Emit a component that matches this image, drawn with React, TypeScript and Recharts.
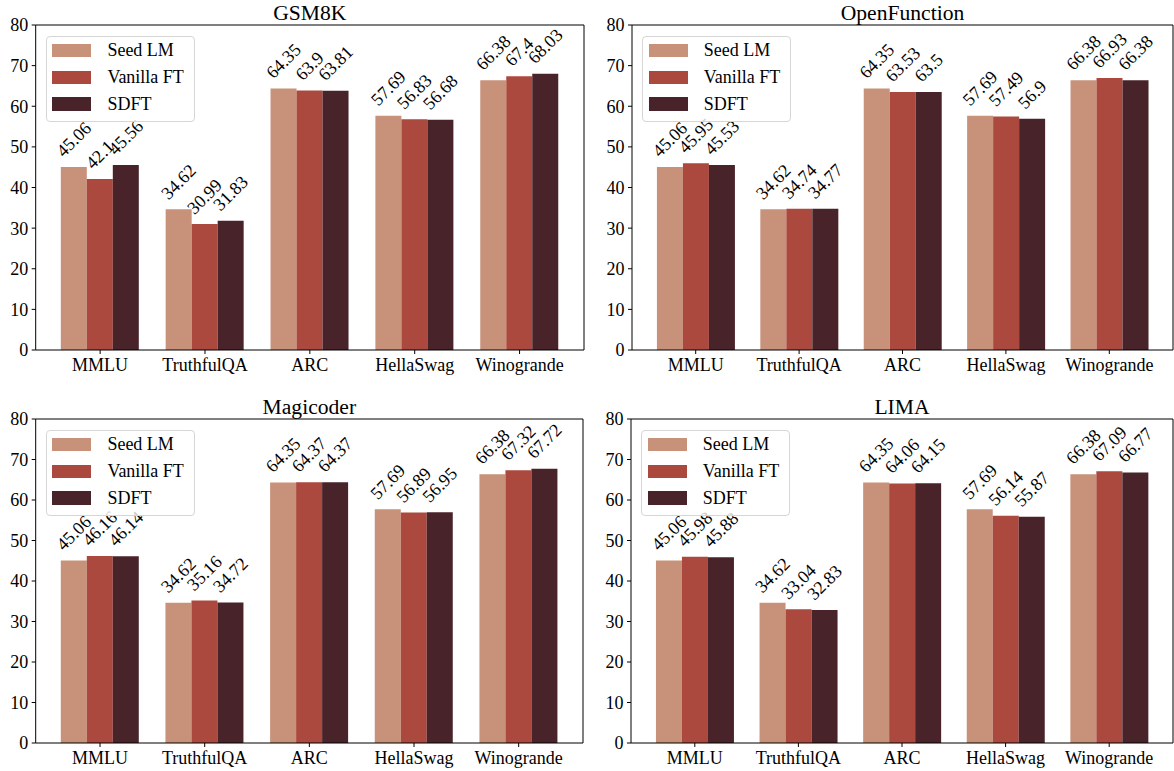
import React from 'react';
import { BarChart, Bar, XAxis, YAxis, Legend, LabelList } from 'recharts';

const CATEGORIES = ['MMLU', 'TruthfulQA', 'ARC', 'HellaSwag', 'Winogrande'];
const SERIES_NAMES = ['Seed LM', 'Vanilla FT', 'SDFT'];
const COLORS = ['#C8927A', '#AB493F', '#48232A'];
const Y_TICKS = [0, 10, 20, 30, 40, 50, 60, 70, 80];

const SEED_LM = [45.06, 34.62, 64.35, 57.69, 66.38];

const GSM8K_VANILLA = [42.1, 30.99, 63.9, 56.83, 67.4];
const GSM8K_SDFT = [45.56, 31.83, 63.81, 56.68, 68.03];

const OPENFUNCTION_VANILLA = [45.95, 34.74, 63.53, 57.49, 66.93];
const OPENFUNCTION_SDFT = [45.53, 34.77, 63.5, 56.9, 66.38];

const MAGICODER_VANILLA = [46.16, 35.16, 64.37, 56.89, 67.32];
const MAGICODER_SDFT = [46.14, 34.72, 64.37, 56.95, 67.72];

const LIMA_VANILLA = [45.98, 33.04, 64.06, 56.14, 67.09];
const LIMA_SDFT = [45.88, 32.83, 64.15, 55.87, 66.77];

const FONT = '"Liberation Serif", "Times New Roman", serif';
const FS = 18;

// chart containers on the page
const PANELS = [
  { title: 'GSM8K', vanilla: GSM8K_VANILLA, sdft: GSM8K_SDFT, left: 0, top: 0, width: 585, height: 385, ml: 5.7, mb: 5, xh: 30 },
  { title: 'OpenFunction', vanilla: OPENFUNCTION_VANILLA, sdft: OPENFUNCTION_SDFT, left: 596, top: 0, width: 578, height: 385, ml: 6, mb: 5, xh: 30 },
  { title: 'Magicoder', vanilla: MAGICODER_VANILLA, sdft: MAGICODER_SDFT, left: 0, top: 394, width: 584, height: 377, ml: 5.7, mb: 0, xh: 28 },
  { title: 'LIMA', vanilla: LIMA_VANILLA, sdft: LIMA_SDFT, left: 595, top: 394, width: 579, height: 377, ml: 6, mb: 0, xh: 28 },
];

// rough ink width of a number label
const labelWidth = (s: string) =>
  s.split('').reduce((w, c) => w + (c === '.' ? 0.25 : 0.5), 0) * FS;

const RotatedLabel = (props: any) => {
  const { x = 0, y = 0, width = 0, value } = props;
  const s = String(value);
  const cx = x + width / 2;
  const box = (labelWidth(s) + 0.66 * FS) / Math.SQRT2;
  const cy = y - 9 - box / 2;
  return (
    <g transform={`translate(${cx} ${cy}) rotate(-45)`}>
      <text
        x={0}
        y={0}
        textAnchor="middle"
        dominantBaseline="central"
        style={{ fontFamily: FONT, fontSize: FS }}
        fill="#000"
      >
        {s}
      </text>
    </g>
  );
};

const LegendBox = () => (
  <div
    style={{
      boxSizing: 'border-box',
      width: 149,
      height: 86,
      border: '1px solid #d6d6d6',
      borderRadius: 4,
      background: 'rgba(255,255,255,0.8)',
      fontFamily: FONT,
      fontSize: FS,
      color: '#000',
    }}
  >
    {SERIES_NAMES.map((name, i) => (
      <div key={name} style={{ display: 'flex', alignItems: 'center', height: 26.8 }}>
        <div style={{ marginLeft: 5.7, width: 39, height: 13.3, background: COLORS[i] }} />
        <span style={{ marginLeft: 16, lineHeight: 1 }}>{name}</span>
      </div>
    ))}
  </div>
);

function Panel({ p }: { p: (typeof PANELS)[number] }) {
  const data = CATEGORIES.map((name, i) => ({
    name,
    seed: SEED_LM[i],
    vanilla: p.vanilla[i],
    sdft: p.sdft[i],
  }));
  const plotLeft = p.ml + 30;
  const plotRight = p.width - 1;
  const tick = { fontFamily: FONT, fontSize: FS, fill: '#000' };

  return (
    <div style={{ position: 'absolute', left: p.left, top: p.top, width: p.width, height: p.height }}>
      <BarChart
        width={p.width}
        height={p.height}
        data={data}
        margin={{ top: 24, right: 0, left: p.ml, bottom: p.mb }}
        barCategoryGap="12.5%"
        barGap={0}
        style={{ fontFamily: FONT }}
      >
        <XAxis
          dataKey="name"
          height={p.xh}
          padding={{ left: 12, right: 12 }}
          tick={tick}
          tickSize={4}
          tickMargin={4}
          interval={0}
          axisLine={{ stroke: '#000' }}
          tickLine={{ stroke: '#000' }}
        />
        <XAxis
          xAxisId="top"
          orientation="top"
          dataKey="name"
          height={1}
          padding={{ left: 12, right: 12 }}
          tick={false}
          tickLine={false}
          axisLine={{ stroke: '#000' }}
        />
        <YAxis
          width={30}
          domain={[0, 80]}
          ticks={Y_TICKS}
          tick={tick}
          tickSize={4}
          tickMargin={3.5}
          interval={0}
          axisLine={{ stroke: '#000' }}
          tickLine={{ stroke: '#000' }}
        />
        <YAxis
          yAxisId="right"
          orientation="right"
          width={1}
          domain={[0, 80]}
          tick={false}
          tickLine={false}
          axisLine={{ stroke: '#000' }}
        />
        <Legend
          layout="vertical"
          align="center"
          verticalAlign="middle"
          content={<LegendBox />}
          wrapperStyle={{ left: plotLeft + 10, top: 36, width: 149, height: 86 }}
        />
        <Bar dataKey="seed" name={SERIES_NAMES[0]} fill={COLORS[0]} isAnimationActive={false}>
          <LabelList dataKey="seed" content={<RotatedLabel />} />
        </Bar>
        <Bar dataKey="vanilla" name={SERIES_NAMES[1]} fill={COLORS[1]} isAnimationActive={false}>
          <LabelList dataKey="vanilla" content={<RotatedLabel />} />
        </Bar>
        <Bar dataKey="sdft" name={SERIES_NAMES[2]} fill={COLORS[2]} isAnimationActive={false}>
          <LabelList dataKey="sdft" content={<RotatedLabel />} />
        </Bar>
      </BarChart>
      <svg
        width={p.width}
        height={25}
        style={{ position: 'absolute', left: 0, top: 0, pointerEvents: 'none' }}
      >
        <text
          x={(plotLeft + plotRight) / 2}
          y={19.5}
          textAnchor="middle"
          style={{ fontFamily: FONT, fontSize: 21.6 }}
          fill="#000"
        >
          {p.title}
        </text>
      </svg>
    </div>
  );
}

export default function App() {
  return (
    <div
      style={{
        position: 'absolute',
        left: 0,
        top: 0,
        width: 1174,
        height: 771,
        overflow: 'hidden',
        background: '#fff',
        fontFamily: FONT,
      }}
    >
      {PANELS.map((p) => (
        <Panel key={p.title} p={p} />
      ))}
    </div>
  );
}
